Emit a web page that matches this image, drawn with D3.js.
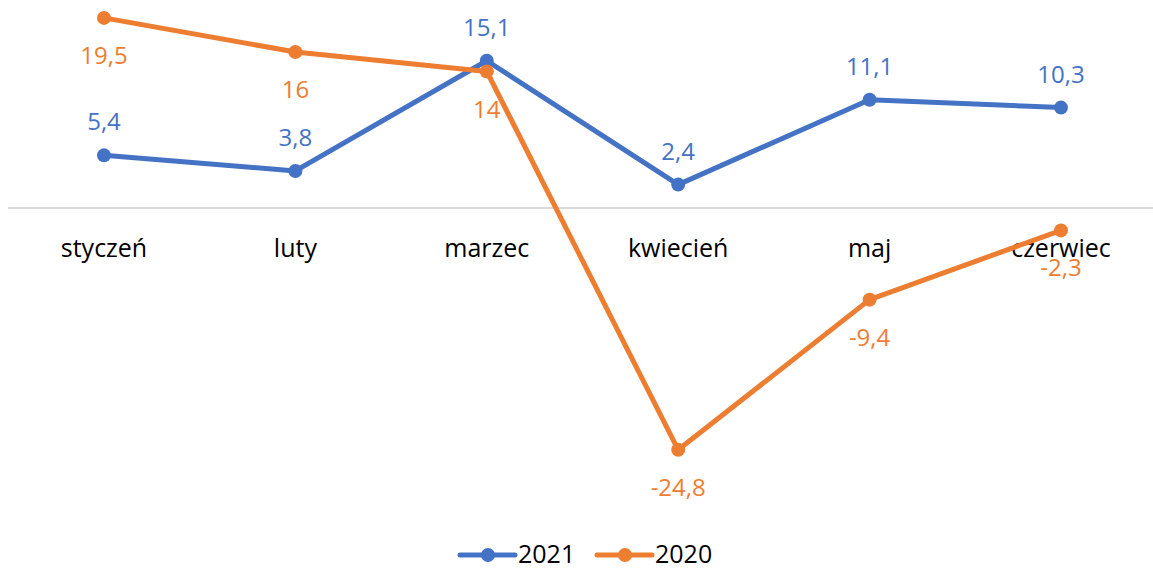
<!DOCTYPE html>
<meta charset="utf-8">
<style>
body {
  margin: 0;
  font-family: 'Open Sans', sans-serif;
  background: #fff;
}
</style>
<body>
<div id="chart"></div>
<script src="https://d3js.org/d3.v7.min.js"></script>
<script>
// chart data
var months = ["styczeń", "luty", "marzec", "kwiecień", "maj", "czerwiec"];
var values2021 = [5.4, 3.8, 15.1, 2.4, 11.1, 10.3];
var values2020 = [19.5, 16, 14, -24.8, -9.4, -2.3];
var seriesNames = ["2021", "2020"];
var seriesColors = ["#4472c4", "#ed7d31"];

var width = 1153,
    height = 569;

var svg = d3.select("#chart").append("svg")
    .attr("width", width)
    .attr("height", height);

var x = d3.scalePoint()
    .domain(months)
    .range([104, 1061]);

var y = d3.scaleLinear()
    .domain([-25, 20])
    .range([451.75, 13]);

// zero line
svg.append("line")
    .attr("x1", 8).attr("x2", width)
    .attr("y1", y(0)).attr("y2", y(0))
    .attr("stroke", "#d9d9d9")
    .attr("stroke-width", 2);

// category labels
svg.append("g")
  .selectAll("text")
    .data(months)
  .enter().append("text")
    .attr("x", function(d) { return x(d); })
    .attr("y", 257)
    .attr("text-anchor", "middle")
    .attr("font-size", 25)
    .attr("fill", "#000")
    .text(function(d) { return d; });

var series = [
  { name: seriesNames[0], values: values2021, color: seriesColors[0], above: true },
  { name: seriesNames[1], values: values2020, color: seriesColors[1], above: false }
];

var line = d3.line()
    .x(function(d, i) { return x(months[i]); })
    .y(function(d) { return y(d); });

series.forEach(function(s) {
  var g = svg.append("g");
  g.append("path")
      .datum(s.values)
      .attr("d", line)
      .attr("fill", "none")
      .attr("stroke", s.color)
      .attr("stroke-width", 5)
      .attr("stroke-linejoin", "round");
  g.selectAll("circle")
      .data(s.values)
    .enter().append("circle")
      .attr("cx", function(d, i) { return x(months[i]); })
      .attr("cy", function(d) { return y(d); })
      .attr("r", 7)
      .attr("fill", s.color);
});

// data labels, drawn after lines
series.forEach(function(s) {
  svg.append("g")
    .selectAll("text")
      .data(s.values)
    .enter().append("text")
      .attr("x", function(d, i) { return x(months[i]); })
      .attr("y", function(d) { return s.above ? y(d) - 25 : y(d) + 46; })
      .attr("text-anchor", "middle")
      .attr("font-size", 24)
      .attr("fill", s.color)
      .text(function(d) { return String(d).replace(".", ","); });
});

// legend
var legend = svg.append("g");
var legendX = [460, 597];
series.forEach(function(s, i) {
  var lx = legendX[i];
  legend.append("line")
      .attr("x1", lx).attr("x2", lx + 55)
      .attr("y1", 555).attr("y2", 555)
      .attr("stroke", s.color)
      .attr("stroke-width", 5)
      .attr("stroke-linecap", "round");
  legend.append("circle")
      .attr("cx", lx + 28).attr("cy", 555)
      .attr("r", 7)
      .attr("fill", s.color);
  legend.append("text")
      .attr("x", lx + 58).attr("y", 563)
      .attr("font-size", 25)
      .attr("fill", "#000")
      .text(s.name);
});
</script>
</body>
